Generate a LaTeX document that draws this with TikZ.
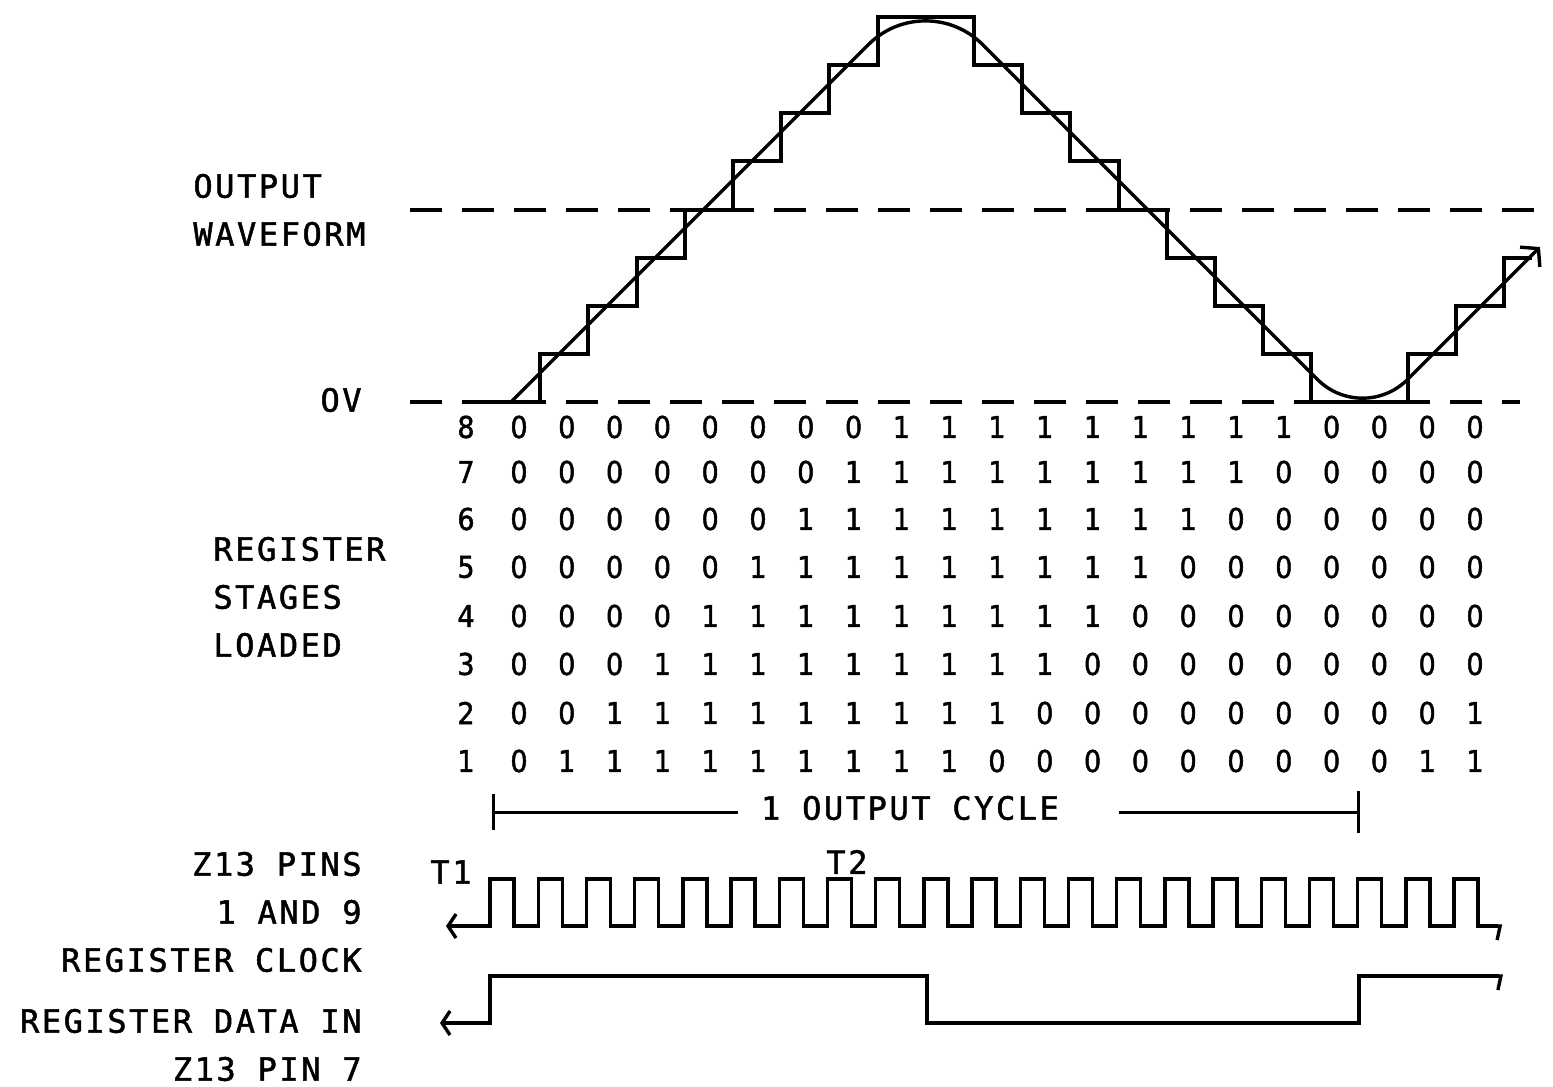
\documentclass[tikz,border=0pt]{standalone}
\usepackage{fontspec}
\setmainfont{DejaVu Sans Mono}[LetterSpace=8.0,FakeBold=1.5]
\newfontfamily\bitfont{DejaVu Sans}[FakeBold=1.5,FakeStretch=0.9]
\usetikzlibrary{arrows.meta}

\begin{document}
\begin{tikzpicture}[x=0.5pt,y=-0.5pt,
  lbl/.style={inner sep=0pt,font=\fontsize{16}{24}\selectfont},
  bit/.style={inner sep=0pt,font=\bitfont\fontsize{15}{18}\selectfont},
  stair/.style={line width=2pt,line join=miter},
  wave/.style={line width=1.7pt},
  refline/.style={line width=2pt,dash pattern=on 16pt off 10pt},
  pulse/.style={line width=1.7pt,line join=miter},
  dim/.style={line width=1.5pt},
  lbarb/.tip={Straight Barb[length=4pt,width=12pt]},
  hook/.tip={Straight Barb[harpoon,swap,length=1.5pt,width=14pt]}]
\useasboundingbox (0,0) rectangle (1553,1087);
% lignes de reference
\draw[refline] (410,210) -- (1553,210);
\draw[refline] (410,402) -- (1520,402);
% escalier
\draw[stair] (492,402) -- (540,402) |- (588,354) |- (637,306) |- (685,258)
  |- (733,210) |- (781,161) |- (829,113) |- (878,65) |- (974,17)
  |- (1022,65) |- (1070,113) |- (1119,161) |- (1167,210) |- (1215,258)
  |- (1263,306) |- (1311,354) |- (1408,402) |- (1456,354) |- (1504,306)
  |- (1532,258);
% sinus
\draw[wave,-{Straight Barb[length=6pt,width=14pt]}] (511,402) -- (868.5,44.5)
  .. controls (900,13) and (951,13) .. (982.5,44.5) -- (1317.5,379.5)
  .. controls (1342.4,404.4) and (1382.6,404.4) .. (1407.5,379.5) -- (1540,247);
% textes de gauche
\node[lbl,align=left,anchor=north west] (wavelbl) at (193,173.5) {OUTPUT\\WAVEFORM};
\node[lbl,anchor=east] (zerolbl) at (362,400) {OV};
\node[lbl,align=left,anchor=north west] (stagelbl) at (213,536.5) {REGISTER\\STAGES\\LOADED};
\node[lbl,align=right,anchor=north east] (clklbl) at (362,851.5) {Z13 PINS\\1 AND 9\\REGISTER CLOCK};
\node[lbl,align=right,anchor=north east] (datalbl) at (362,1008.5) {REGISTER DATA IN\\Z13 PIN 7};
% etages du registre
\foreach \n/\yy/\bits in {
  8/427/{0,0,0,0,0,0,0,0,1,1,1,1,1,1,1,1,1,0,0,0,0},
  7/472/{0,0,0,0,0,0,0,1,1,1,1,1,1,1,1,1,0,0,0,0,0},
  6/519/{0,0,0,0,0,0,1,1,1,1,1,1,1,1,1,0,0,0,0,0,0},
  5/567/{0,0,0,0,0,1,1,1,1,1,1,1,1,1,0,0,0,0,0,0,0},
  4/616/{0,0,0,0,1,1,1,1,1,1,1,1,1,0,0,0,0,0,0,0,0},
  3/664/{0,0,0,1,1,1,1,1,1,1,1,1,0,0,0,0,0,0,0,0,0},
  2/713/{0,0,1,1,1,1,1,1,1,1,1,0,0,0,0,0,0,0,0,0,1},
  1/761/{0,1,1,1,1,1,1,1,1,1,0,0,0,0,0,0,0,0,0,1,1}}{
  \node[bit] (st\n) at (466,\yy) {\n};
  \foreach \v [count=\k from 0] in \bits
    \node[bit] (b\n-\k) at (519+47.8*\k,\yy) {\v};
}
% 1 cycle de sortie
\node[lbl] (cyc) at (910,808) {1 OUTPUT CYCLE};
\coordinate (cycA) at (492,812);
\coordinate (cycB) at (1360,812);
\draw[dim,{Bar[width=18pt]}-] (cycA) -- (738,812);
\draw[dim,-{Bar[width=21pt]}] (1119,812) -- (cycB);
% horloge
\node[lbl] (tone) at (451,872) {T1};
\node[lbl] (ttwo) at (847,862) {T2};
\draw[pulse,lbarb-hook] (446,926) -- (490,926)
  \foreach \k in {0,...,20}{ -- ++(0,-47) -- ++(24,0) -- ++(0,47) -- ++(24.2,0)};
% donnees
\draw[pulse,lbarb-hook] (440,1023) -- (490,1023) |- (927,976) |- (1359,1023) |- (1503,976);
\end{tikzpicture}
\end{document}
